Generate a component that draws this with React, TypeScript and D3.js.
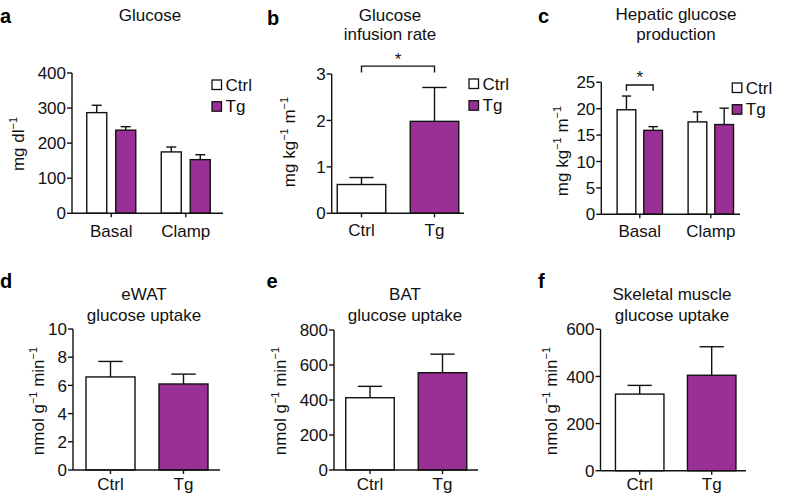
import React from "react";
import * as d3 from "d3";

// ---------- DATA ----------
const SERIES = ["Ctrl", "Tg"];

const glucoseCategories = ["Basal", "Clamp"];
const glucoseCtrl = [287, 175];
const glucoseCtrlSem = [21, 14];
const glucoseTg = [237, 153];
const glucoseTgSem = [10, 14];
const glucoseTicks = [0, 100, 200, 300, 400];

const girValues = [0.62, 1.98];
const girSem = [0.15, 0.73];
const girTicks = [0, 1, 2, 3];

const hgpCategories = ["Basal", "Clamp"];
const hgpCtrl = [19.8, 17.5];
const hgpCtrlSem = [2.6, 1.9];
const hgpTg = [15.9, 17.0];
const hgpTgSem = [0.7, 3.1];
const hgpTicks = [0, 5, 10, 15, 20, 25];

const ewatValues = [6.6, 6.1];
const ewatSem = [1.1, 0.7];
const ewatTicks = [0, 2, 4, 6, 8, 10];

const batValues = [413, 556];
const batSem = [65, 106];
const batTicks = [0, 200, 400, 600, 800];

const skmValues = [325, 405];
const skmSem = [37, 121];
const skmTicks = [0, 200, 400, 600];

// ---------- STYLE ----------
const FONT = "'Liberation Sans', Arial, Helvetica, sans-serif";
const INK = "#111111";
const FILL: Record<string, string> = { Ctrl: "#ffffff", Tg: "#9a3096" };
const SW = 1.4;

type Bar = { cat: string; series: string; value: number; sem: number };

function groupedBars(cats: string[], ctrl: number[], ctrlSem: number[], tg: number[], tgSem: number[]): Bar[] {
  const out: Bar[] = [];
  cats.forEach((c, i) => {
    out.push({ cat: c, series: "Ctrl", value: ctrl[i], sem: ctrlSem[i] });
    out.push({ cat: c, series: "Tg", value: tg[i], sem: tgSem[i] });
  });
  return out;
}
function singleBars(values: number[], sem: number[]): Bar[] {
  return SERIES.map((s, i) => ({ cat: s, series: s, value: values[i], sem: sem[i] }));
}

type YPart = { t: string; sup?: boolean };

type PanelCfg = {
  label: string;
  labelX: number;
  labelY: number;
  title: string[];
  titleX: number;
  titleY: number[];
  yLabel: YPart[];
  yLabelX: number;
  yLabelY: number;
  axisX: number;
  axisEnd: number;
  yTopPx: number;
  yZeroPx: number;
  xLabelDy: number;
  ticks: number[];
  categories: string[];
  bars: Bar[];
  bandRange: [number, number];
  grouped: boolean;
  barWidth: number;
  gap?: number;
  legend?: { x: number; y: number };
  sig?: { a: [string, string]; b: [string, string]; yVal: number; legVal: number };
};

const unitsMg: YPart[] = [{ t: "mg dl" }, { t: "−1", sup: true }];
const unitsKg: YPart[] = [{ t: "mg kg" }, { t: "−1", sup: true }, { t: " m" }, { t: "−1", sup: true }];
const unitsNmol: YPart[] = [{ t: "nmol g" }, { t: "−1", sup: true }, { t: " min" }, { t: "−1", sup: true }];

const panels: PanelCfg[] = [
  {
    label: "a", labelX: 0, labelY: 23,
    title: ["Glucose"], titleX: 150, titleY: [20.5],
    yLabel: unitsMg, yLabelX: 23.5, yLabelY: 144,
    axisX: 72, axisEnd: 223, yTopPx: 73, yZeroPx: 213.3, xLabelDy: 23.5, ticks: glucoseTicks,
    categories: glucoseCategories,
    bars: groupedBars(glucoseCategories, glucoseCtrl, glucoseCtrlSem, glucoseTg, glucoseTgSem),
    bandRange: [74, 223], grouped: true, barWidth: 20, gap: 9,
    legend: { x: 212, y: 80 },
  },
  {
    label: "b", labelX: 267, labelY: 24.5,
    title: ["Glucose", "infusion rate"], titleX: 390, titleY: [20.5, 39.5],
    yLabel: unitsKg, yLabelX: 295, yLabelY: 142,
    axisX: 331.7, axisEnd: 464, yTopPx: 74, yZeroPx: 213.3, xLabelDy: 22.5, ticks: girTicks,
    categories: SERIES,
    bars: singleBars(girValues, girSem),
    bandRange: [325, 471], grouped: false, barWidth: 48.5,
    legend: { x: 469, y: 79 },
    sig: { a: ["Ctrl", "Ctrl"], b: ["Tg", "Tg"], yVal: 3.17, legVal: 3.03 },
  },
  {
    label: "c", labelX: 538, labelY: 23,
    title: ["Hepatic glucose", "production"], titleX: 676, titleY: [20, 39.5],
    yLabel: unitsKg, yLabelX: 568, yLabelY: 151,
    axisX: 601.3, axisEnd: 740, yTopPx: 82.3, yZeroPx: 214.3, xLabelDy: 23, ticks: hgpTicks,
    categories: hgpCategories,
    bars: groupedBars(hgpCategories, hgpCtrl, hgpCtrlSem, hgpTg, hgpTgSem),
    bandRange: [604.3, 746.3], grouped: true, barWidth: 18.7, gap: 8,
    legend: { x: 732.3, y: 83 },
    sig: { a: ["Basal", "Ctrl"], b: ["Basal", "Tg"], yVal: 24.5, legVal: 23.4 },
  },
  {
    label: "d", labelX: 0, labelY: 288,
    title: ["eWAT", "glucose uptake"], titleX: 144, titleY: [300, 320.5],
    yLabel: unitsNmol, yLabelX: 44, yLabelY: 401,
    axisX: 73, axisEnd: 220, yTopPx: 329, yZeroPx: 470, xLabelDy: 19.5, ticks: ewatTicks,
    categories: SERIES,
    bars: singleBars(ewatValues, ewatSem),
    bandRange: [74, 220], grouped: false, barWidth: 49,
  },
  {
    label: "e", labelX: 266.5, labelY: 288,
    title: ["BAT", "glucose uptake"], titleX: 405, titleY: [300, 320.5],
    yLabel: unitsNmol, yLabelX: 286, yLabelY: 401,
    axisX: 334, axisEnd: 478, yTopPx: 330, yZeroPx: 470, xLabelDy: 19.5, ticks: batTicks,
    categories: SERIES,
    bars: singleBars(batValues, batSem),
    bandRange: [333.75, 478.75], grouped: false, barWidth: 48.5,
  },
  {
    label: "f", labelX: 538, labelY: 288,
    title: ["Skeletal muscle", "glucose uptake"], titleX: 672, titleY: [300, 320.5],
    yLabel: unitsNmol, yLabelX: 557, yLabelY: 401,
    axisX: 600.5, axisEnd: 746, yTopPx: 329.3, yZeroPx: 470.7, xLabelDy: 19, ticks: skmTicks,
    categories: SERIES,
    bars: singleBars(skmValues, skmSem),
    bandRange: [603.7, 747.7], grouped: false, barWidth: 48.5,
  },
];

function Panel({ cfg }: { cfg: PanelCfg }) {
  const yMax = cfg.ticks[cfg.ticks.length - 1];
  const y = d3.scaleLinear().domain([0, yMax]).range([cfg.yZeroPx, cfg.yTopPx]);
  const x0 = d3.scaleBand<string>().domain(cfg.categories).range(cfg.bandRange).padding(0);
  const center0 = (c: string) => (x0(c) as number) + x0.bandwidth() / 2;

  let x1: d3.ScaleBand<string> | null = null;
  if (cfg.grouped) {
    const gap = cfg.gap ?? 0;
    const gw = 2 * cfg.barWidth + gap;
    x1 = d3
      .scaleBand<string>()
      .domain(SERIES)
      .range([-gw / 2, gw / 2])
      .paddingInner(gap / (cfg.barWidth + gap))
      .paddingOuter(0);
  }
  const barX = (b: Bar) =>
    cfg.grouped && x1 ? center0(b.cat) + (x1(b.series) as number) : center0(b.cat) - cfg.barWidth / 2;
  const barW = cfg.grouped && x1 ? x1.bandwidth() : cfg.barWidth;
  const barCenter = (cat: string, series: string) => {
    const b = cfg.bars.find((d) => d.cat === cat && d.series === series)!;
    return barX(b) + barW / 2;
  };

  return (
    <g>
      <text x={cfg.labelX} y={cfg.labelY} fontSize={20} fontWeight="bold" fill="#000">
        {cfg.label}
      </text>
      {cfg.title.map((t, i) => (
        <text key={t} x={cfg.titleX} y={cfg.titleY[i]} fontSize={17} textAnchor="middle" fill={INK}>
          {t}
        </text>
      ))}
      {/* y label */}
      <text
        transform={`translate(${cfg.yLabelX},${cfg.yLabelY}) rotate(-90)`}
        textAnchor="middle"
        fontSize={17}
        fill={INK}
      >
        {cfg.yLabel.map((p, i) => {
          const prevSup = i > 0 && cfg.yLabel[i - 1].sup;
          const dy = p.sup ? -7 : prevSup ? 7 : 0;
          return (
            <tspan key={i} dy={dy} fontSize={p.sup ? 11 : 17}>
              {p.t}
            </tspan>
          );
        })}
      </text>
      {/* bars */}
      {cfg.bars.map((b, i) => (
        <g key={i}>
          <line
            x1={barX(b) + barW / 2}
            x2={barX(b) + barW / 2}
            y1={y(b.value)}
            y2={y(b.value + b.sem)}
            stroke={INK}
            strokeWidth={SW}
          />
          <line
            x1={barX(b) + barW / 4}
            x2={barX(b) + (3 * barW) / 4}
            y1={y(b.value + b.sem)}
            y2={y(b.value + b.sem)}
            stroke={INK}
            strokeWidth={SW}
          />
          <rect
            x={barX(b)}
            y={y(b.value)}
            width={barW}
            height={y(0) - y(b.value)}
            fill={FILL[b.series]}
            stroke={INK}
            strokeWidth={SW}
          />
        </g>
      ))}
      {/* y axis */}
      <line x1={cfg.axisX} x2={cfg.axisX} y1={y(yMax)} y2={y(0)} stroke={INK} strokeWidth={SW} />
      {cfg.ticks.map((t) => (
        <g key={t}>
          <line x1={cfg.axisX - 5} x2={cfg.axisX} y1={y(t)} y2={y(t)} stroke={INK} strokeWidth={SW} />
          <text x={cfg.axisX - 6} y={y(t)} dy="0.36em" textAnchor="end" fontSize={17} fill={INK}>
            {t}
          </text>
        </g>
      ))}
      {/* x axis */}
      <line x1={cfg.axisX} x2={cfg.axisEnd} y1={y(0)} y2={y(0)} stroke={INK} strokeWidth={SW} />
      {cfg.categories.map((c) => (
        <g key={c}>
          <line x1={center0(c)} x2={center0(c)} y1={y(0)} y2={y(0) + 4} stroke={INK} strokeWidth={SW} />
          <text x={center0(c)} y={y(0) + cfg.xLabelDy} textAnchor="middle" fontSize={17} fill={INK}>
            {c}
          </text>
        </g>
      ))}
      {/* legend */}
      {cfg.legend &&
        SERIES.map((s, i) => (
          <g key={s}>
            <rect
              x={cfg.legend!.x}
              y={cfg.legend!.y + i * 21.7}
              width={9.5}
              height={9.5}
              fill={FILL[s]}
              stroke={INK}
              strokeWidth={1.3}
            />
            <text x={cfg.legend!.x + 13.5} y={cfg.legend!.y + i * 21.7 + 10.5} fontSize={17} fill={INK}>
              {s}
            </text>
          </g>
        ))}
      {/* significance */}
      {cfg.sig && (
        <g>
          <path
            d={`M${barCenter(cfg.sig.a[0], cfg.sig.a[1])},${y(cfg.sig.legVal)}V${y(cfg.sig.yVal)}H${barCenter(
              cfg.sig.b[0],
              cfg.sig.b[1]
            )}V${y(cfg.sig.legVal)}`}
            fill="none"
            stroke={INK}
            strokeWidth={SW}
          />
          <text
            x={(barCenter(cfg.sig.a[0], cfg.sig.a[1]) + barCenter(cfg.sig.b[0], cfg.sig.b[1])) / 2}
            y={y(cfg.sig.yVal) - 1.5}
            textAnchor="middle"
            fontSize={17}
            fill={INK}
          >
            *
          </text>
        </g>
      )}
    </g>
  );
}

export default function App() {
  return (
    <svg
      width={788}
      height={494}
      viewBox="0 0 788 494"
      style={{ position: "absolute", left: 0, top: 0, background: "#fff" }}
      fontFamily={FONT}
    >
      <rect width={788} height={494} fill="#fff" />
      {panels.map((p) => (
        <Panel key={p.label} cfg={p} />
      ))}
    </svg>
  );
}
